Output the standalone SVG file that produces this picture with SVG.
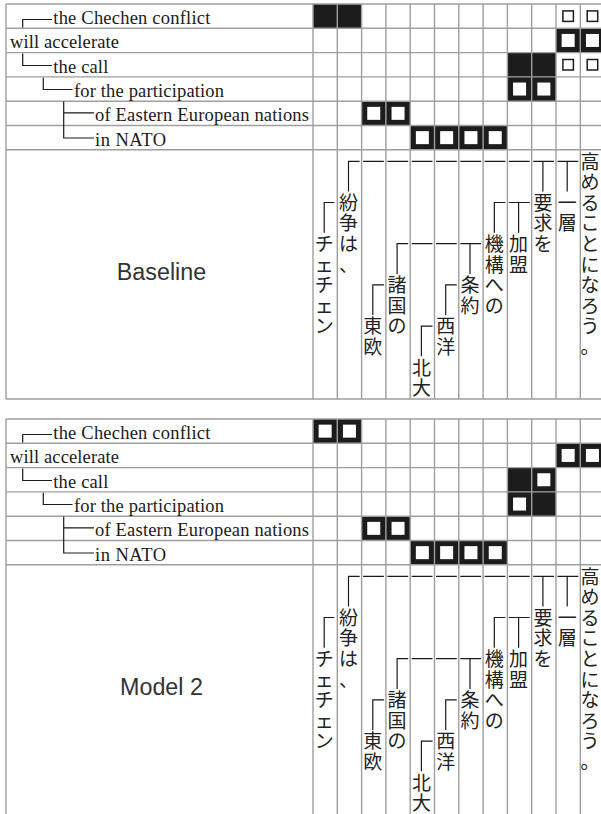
<svg xmlns="http://www.w3.org/2000/svg" width="601" height="814" viewBox="0 0 601 814">
<style>
.grid{stroke:#9e9e9e;stroke-width:1.4;fill:none}
.en{font-family:"Liberation Serif","Times New Roman",serif;font-size:18.5px;fill:#1a1a1a}
.ja{font-family:"Noto Sans CJK JP","Noto Sans CJK SC",sans-serif;font-size:19px;fill:#222;text-anchor:middle}
.title{font-family:"Liberation Sans",Arial,sans-serif;font-size:23.3px;fill:#333;text-anchor:middle}
.tree{stroke:#1a1a1a;stroke-width:1.2;fill:none}
</style>
<defs>
<g id="solid"><rect width="24.3" height="24.3" fill="#1c1c1c"/></g>
<g id="boxed"><rect width="24.3" height="24.3" fill="#1c1c1c"/><rect x="5.65" y="5.65" width="13" height="13" fill="#fff"/></g>
<g id="hollow"><rect x="6.9" y="6.9" width="10.5" height="10.5" fill="#fff" stroke="#1c1c1c" stroke-width="1.5"/></g>
</defs>
<rect width="601" height="814" fill="#fff"/>

<g id="baseline-table">
<g id="baseline-cells">
<use href="#solid" x="313" y="4"/><use href="#solid" x="337.3" y="4"/><use href="#hollow" x="556" y="4"/><use href="#hollow" x="580.3" y="4"/>
<use href="#boxed" x="556" y="28.3"/><use href="#boxed" x="580.3" y="28.3"/>
<use href="#solid" x="507.4" y="52.6"/><use href="#solid" x="531.7" y="52.6"/><use href="#hollow" x="556" y="52.6"/><use href="#hollow" x="580.3" y="52.6"/>
<use href="#boxed" x="507.4" y="76.9"/><use href="#boxed" x="531.7" y="76.9"/>
<use href="#boxed" x="361.6" y="101.2"/><use href="#boxed" x="385.9" y="101.2"/>
<use href="#boxed" x="410.2" y="125.5"/><use href="#boxed" x="434.5" y="125.5"/><use href="#boxed" x="458.8" y="125.5"/><use href="#boxed" x="483.1" y="125.5"/>
</g>
<path class="grid" d="M6 4H605M6 28.3H605M6 52.6H605M6 76.9H605M6 101.2H605M6 125.5H605M6 149.8H605M6 399H605M6 4V399M313 4V399M337.3 4V399M361.6 4V399M385.9 4V399M410.2 4V399M434.5 4V399M458.8 4V399M483.1 4V399M507.4 4V399M531.7 4V399M556 4V399M580.3 4V399"/>
<text class="title" x="161.5" y="280">Baseline</text>
<g id="b-en-0"><text class="en" x="53.3" y="24" textLength="157" lengthAdjust="spacing">the Chechen conflict</text></g>
<g id="b-en-1"><text class="en" x="10" y="48.3" textLength="109" lengthAdjust="spacing">will accelerate</text></g>
<g id="b-en-2"><text class="en" x="53.3" y="72.6" textLength="55" lengthAdjust="spacing">the call</text></g>
<g id="b-en-3"><text class="en" x="74" y="96.9" textLength="150" lengthAdjust="spacing">for the participation</text></g>
<g id="b-en-4"><text class="en" x="95" y="121.2" textLength="214" lengthAdjust="spacing">of Eastern European nations</text></g>
<g id="b-en-5"><text class="en" x="95" y="145.5" textLength="71" lengthAdjust="spacing">in NATO</text></g>
<g id="b-ja-0"><text class="ja" x="324.2 324.2 324.2 324.2 324.2" y="250.9 271.5 292.1 312.7 333.3">チェチェン</text></g>
<g id="b-ja-1"><text class="ja" x="348.5 348.5 348.5 348.5" y="209.7 230.3 250.9 271.5">紛争は、</text></g>
<g id="b-ja-2"><text class="ja" x="372.8 372.8" y="333.3 353.9">東欧</text></g>
<g id="b-ja-3"><text class="ja" x="397.1 397.1 397.1" y="292.1 312.7 333.3">諸国の</text></g>
<g id="b-ja-4"><text class="ja" x="421.4 421.4" y="374.5 395.1">北大</text></g>
<g id="b-ja-5"><text class="ja" x="445.7 445.7" y="333.3 353.9">西洋</text></g>
<g id="b-ja-6"><text class="ja" x="470 470" y="292.1 312.7">条約</text></g>
<g id="b-ja-7"><text class="ja" x="494.3 494.3 494.3 494.3" y="250.9 271.5 292.1 312.7">機構への</text></g>
<g id="b-ja-8"><text class="ja" x="518.6 518.6" y="250.9 271.5">加盟</text></g>
<g id="b-ja-9"><text class="ja" x="542.9 542.9 542.9" y="209.7 230.3 250.9">要求を</text></g>
<g id="b-ja-10"><text class="ja" x="567.2 567.2" y="209.7 230.3">一層</text></g>
<g id="b-ja-11"><text class="ja" x="590 590 590 590 590 590 590 590 590 590" y="168.5 189.1 209.7 230.3 250.9 271.5 292.1 312.7 333.3 353.9">高めることになろう。</text></g>
<g id="b-connectors">
<path class="tree" d="M22.7 27.5V19.5H52M22.7 53.5V65.5H52M43.3 77.8V89.5H72.5M63.7 101.5V138H94M63.7 112.8H94"/>
<path class="tree" d="M348.5 191.5V161.3H359.6M363.1 161.3H383.9M387.4 161.3H408.2M411.7 161.3H432.5M436 161.3H456.8M460.3 161.3H481.1M484.6 161.3H505.4M508.9 161.3H529.7M533.2 161.3H554M542.9 161.3V191.5M557.5 161.3H578.3M567.2 161.3V191.5"/>
<path class="tree" d="M324.2 232.7V202.5H334.3M494.3 232.7V202.5H505.4M508.9 202.5H529.7M518.6 202.5V232.7"/>
<path class="tree" d="M397.1 273.9V243.7H408.2M411.7 243.7H432.5M436 243.7H456.8M460.3 243.7H481.1M470 243.7V273.9"/>
<path class="tree" d="M372.8 315.1V284.9H383.9M445.7 315.1V284.9H456.8M421.4 356.3V326.1H432.5"/>
</g>
</g>

<g id="model2-table">
<g id="m-cells">
<use href="#boxed" x="313" y="419"/><use href="#boxed" x="337.3" y="419"/>
<use href="#boxed" x="556" y="443.3"/><use href="#boxed" x="580.3" y="443.3"/>
<use href="#solid" x="507.4" y="467.6"/><use href="#boxed" x="531.7" y="467.6"/>
<use href="#boxed" x="507.4" y="491.9"/><use href="#solid" x="531.7" y="491.9"/>
<use href="#boxed" x="361.6" y="516.2"/><use href="#boxed" x="385.9" y="516.2"/>
<use href="#boxed" x="410.2" y="540.5"/><use href="#boxed" x="434.5" y="540.5"/><use href="#boxed" x="458.8" y="540.5"/><use href="#boxed" x="483.1" y="540.5"/>
</g>
<path class="grid" d="M6 419H605M6 443.3H605M6 467.6H605M6 491.9H605M6 516.2H605M6 540.5H605M6 564.8H605M6 419V816M313 419V816M337.3 419V816M361.6 419V816M385.9 419V816M410.2 419V816M434.5 419V816M458.8 419V816M483.1 419V816M507.4 419V816M531.7 419V816M556 419V816M580.3 419V816"/>
<text class="title" x="161.5" y="695">Model 2</text>
<g id="m-en-0"><text class="en" x="53.3" y="439" textLength="157" lengthAdjust="spacing">the Chechen conflict</text></g>
<g id="m-en-1"><text class="en" x="10" y="463.3" textLength="109" lengthAdjust="spacing">will accelerate</text></g>
<g id="m-en-2"><text class="en" x="53.3" y="487.6" textLength="55" lengthAdjust="spacing">the call</text></g>
<g id="m-en-3"><text class="en" x="74" y="511.9" textLength="150" lengthAdjust="spacing">for the participation</text></g>
<g id="m-en-4"><text class="en" x="95" y="536.2" textLength="214" lengthAdjust="spacing">of Eastern European nations</text></g>
<g id="m-en-5"><text class="en" x="95" y="560.5" textLength="71" lengthAdjust="spacing">in NATO</text></g>
<g id="m-ja-0"><text class="ja" x="324.2 324.2 324.2 324.2 324.2" y="665.9 686.5 707.1 727.7 748.3">チェチェン</text></g>
<g id="m-ja-1"><text class="ja" x="348.5 348.5 348.5 348.5" y="624.7 645.3 665.9 686.5">紛争は、</text></g>
<g id="m-ja-2"><text class="ja" x="372.8 372.8" y="748.3 768.9">東欧</text></g>
<g id="m-ja-3"><text class="ja" x="397.1 397.1 397.1" y="707.1 727.7 748.3">諸国の</text></g>
<g id="m-ja-4"><text class="ja" x="421.4 421.4" y="789.5 810.1">北大</text></g>
<g id="m-ja-5"><text class="ja" x="445.7 445.7" y="748.3 768.9">西洋</text></g>
<g id="m-ja-6"><text class="ja" x="470 470" y="707.1 727.7">条約</text></g>
<g id="m-ja-7"><text class="ja" x="494.3 494.3 494.3 494.3" y="665.9 686.5 707.1 727.7">機構への</text></g>
<g id="m-ja-8"><text class="ja" x="518.6 518.6" y="665.9 686.5">加盟</text></g>
<g id="m-ja-9"><text class="ja" x="542.9 542.9 542.9" y="624.7 645.3 665.9">要求を</text></g>
<g id="m-ja-10"><text class="ja" x="567.2 567.2" y="624.7 645.3">一層</text></g>
<g id="m-ja-11"><text class="ja" x="590 590 590 590 590 590 590 590 590 590" y="583.5 604.1 624.7 645.3 665.9 686.5 707.1 727.7 748.3 768.9">高めることになろう。</text></g>
<g id="m-connectors">
<path class="tree" d="M22.7 442.5V434.5H52M22.7 468.5V480.5H52M43.3 492.8V504.5H72.5M63.7 516.5V553H94M63.7 527.8H94"/>
<path class="tree" d="M348.5 606.5V576.3H359.6M363.1 576.3H383.9M387.4 576.3H408.2M411.7 576.3H432.5M436 576.3H456.8M460.3 576.3H481.1M484.6 576.3H505.4M508.9 576.3H529.7M533.2 576.3H554M542.9 576.3V606.5M557.5 576.3H578.3M567.2 576.3V606.5"/>
<path class="tree" d="M324.2 647.7V617.5H334.3M494.3 647.7V617.5H505.4M508.9 617.5H529.7M518.6 617.5V647.7"/>
<path class="tree" d="M397.1 688.9V658.7H408.2M411.7 658.7H432.5M436 658.7H456.8M460.3 658.7H481.1M470 658.7V688.9"/>
<path class="tree" d="M372.8 730.1V699.9H383.9M445.7 730.1V699.9H456.8M421.4 771.3V741.1H432.5"/>
</g>
</g>
</svg>
